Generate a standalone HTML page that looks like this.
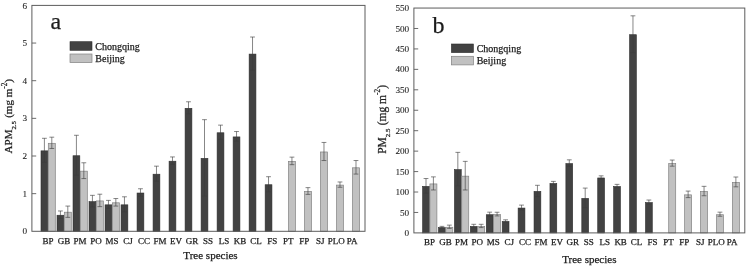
<!DOCTYPE html>
<html><head><meta charset="utf-8"><title>Figure</title>
<style>
html,body{margin:0;padding:0;background:#fff;}
body{width:746px;height:267px;overflow:hidden;}
svg{display:block;filter:blur(0.35px);}
svg text{font-family:"Liberation Serif","Times New Roman",serif;fill:#1c1c1c;stroke:#1c1c1c;stroke-width:0.25px;}
svg text.t{stroke-width:0.08px;}
</style></head><body>
<svg width="746" height="267" viewBox="0 0 746 267">
<rect width="746" height="267" fill="#fff"/>
<g>
<rect x="41.00" y="150.85" width="6.8" height="80.45" fill="#424242" stroke="#2e2e2e" stroke-width="0.6"/>
<path d="M44.40 138.30V162.40M42.00 138.30h4.8M42.00 162.40h4.8" stroke="#3c3c3c" stroke-width="0.62" fill="none"/>
<rect x="48.30" y="143.32" width="7.0" height="87.98" fill="#c1c1c1" stroke="#828282" stroke-width="0.7"/>
<path d="M51.80 137.18V148.47M49.40 137.18h4.8M49.40 148.47h4.8" stroke="#3c3c3c" stroke-width="0.62" fill="none"/>
<rect x="57.01" y="215.23" width="6.8" height="16.07" fill="#424242" stroke="#2e2e2e" stroke-width="0.6"/>
<path d="M60.41 210.97V218.50M58.01 210.97h4.8M58.01 218.50h4.8" stroke="#3c3c3c" stroke-width="0.62" fill="none"/>
<rect x="64.31" y="212.22" width="7.0" height="19.08" fill="#c1c1c1" stroke="#828282" stroke-width="0.7"/>
<path d="M67.81 206.07V217.37M65.41 206.07h4.8M65.41 217.37h4.8" stroke="#3c3c3c" stroke-width="0.62" fill="none"/>
<rect x="73.02" y="155.75" width="6.8" height="75.55" fill="#424242" stroke="#2e2e2e" stroke-width="0.6"/>
<path d="M76.42 135.29V175.20M74.02 135.29h4.8M74.02 175.20h4.8" stroke="#3c3c3c" stroke-width="0.62" fill="none"/>
<rect x="80.32" y="171.18" width="7.0" height="60.12" fill="#c1c1c1" stroke="#828282" stroke-width="0.7"/>
<path d="M83.82 162.78V178.59M81.42 162.78h4.8M81.42 178.59h4.8" stroke="#3c3c3c" stroke-width="0.62" fill="none"/>
<rect x="89.03" y="201.68" width="6.8" height="29.62" fill="#424242" stroke="#2e2e2e" stroke-width="0.6"/>
<path d="M92.43 195.34V207.02M90.03 195.34h4.8M90.03 207.02h4.8" stroke="#3c3c3c" stroke-width="0.62" fill="none"/>
<rect x="96.33" y="200.93" width="7.0" height="30.37" fill="#c1c1c1" stroke="#828282" stroke-width="0.7"/>
<path d="M99.83 194.21V206.64M97.43 194.21h4.8M97.43 206.64h4.8" stroke="#3c3c3c" stroke-width="0.62" fill="none"/>
<rect x="105.04" y="204.84" width="6.8" height="26.46" fill="#424242" stroke="#2e2e2e" stroke-width="0.6"/>
<path d="M108.44 200.39V208.30M106.04 200.39h4.8M106.04 208.30h4.8" stroke="#3c3c3c" stroke-width="0.62" fill="none"/>
<rect x="112.34" y="202.81" width="7.0" height="28.49" fill="#c1c1c1" stroke="#828282" stroke-width="0.7"/>
<path d="M115.84 198.54V206.07M113.44 198.54h4.8M113.44 206.07h4.8" stroke="#3c3c3c" stroke-width="0.62" fill="none"/>
<rect x="121.05" y="204.84" width="6.8" height="26.46" fill="#424242" stroke="#2e2e2e" stroke-width="0.6"/>
<path d="M124.45 196.81V211.87M122.05 196.81h4.8M122.05 211.87h4.8" stroke="#3c3c3c" stroke-width="0.62" fill="none"/>
<rect x="137.06" y="193.02" width="6.8" height="38.28" fill="#424242" stroke="#2e2e2e" stroke-width="0.6"/>
<path d="M140.46 188.76V196.29M138.06 188.76h4.8M138.06 196.29h4.8" stroke="#3c3c3c" stroke-width="0.62" fill="none"/>
<rect x="153.07" y="174.20" width="6.8" height="57.10" fill="#424242" stroke="#2e2e2e" stroke-width="0.6"/>
<path d="M156.47 166.17V181.23M154.07 166.17h4.8M154.07 181.23h4.8" stroke="#3c3c3c" stroke-width="0.62" fill="none"/>
<rect x="169.08" y="161.21" width="6.8" height="70.09" fill="#424242" stroke="#2e2e2e" stroke-width="0.6"/>
<path d="M172.48 156.94V164.47M170.08 156.94h4.8M170.08 164.47h4.8" stroke="#3c3c3c" stroke-width="0.62" fill="none"/>
<rect x="185.09" y="108.31" width="6.8" height="122.99" fill="#424242" stroke="#2e2e2e" stroke-width="0.6"/>
<path d="M188.49 101.78V113.83M186.09 101.78h4.8M186.09 113.83h4.8" stroke="#3c3c3c" stroke-width="0.62" fill="none"/>
<rect x="201.10" y="158.38" width="6.8" height="72.92" fill="#424242" stroke="#2e2e2e" stroke-width="0.6"/>
<path d="M204.50 119.67V196.10M202.10 119.67h4.8M202.10 196.10h4.8" stroke="#3c3c3c" stroke-width="0.62" fill="none"/>
<rect x="217.11" y="132.78" width="6.8" height="98.52" fill="#424242" stroke="#2e2e2e" stroke-width="0.6"/>
<path d="M220.51 125.13V139.43M218.11 125.13h4.8M218.11 139.43h4.8" stroke="#3c3c3c" stroke-width="0.62" fill="none"/>
<rect x="233.12" y="136.92" width="6.8" height="94.38" fill="#424242" stroke="#2e2e2e" stroke-width="0.6"/>
<path d="M236.52 131.53V141.32M234.12 131.53h4.8M234.12 141.32h4.8" stroke="#3c3c3c" stroke-width="0.62" fill="none"/>
<rect x="249.13" y="54.09" width="6.8" height="177.21" fill="#424242" stroke="#2e2e2e" stroke-width="0.6"/>
<path d="M252.53 37.03V70.16M250.13 37.03h4.8M250.13 70.16h4.8" stroke="#3c3c3c" stroke-width="0.62" fill="none"/>
<rect x="265.14" y="184.74" width="6.8" height="46.56" fill="#424242" stroke="#2e2e2e" stroke-width="0.6"/>
<path d="M268.54 176.71V191.77M266.14 176.71h4.8M266.14 191.77h4.8" stroke="#3c3c3c" stroke-width="0.62" fill="none"/>
<rect x="288.45" y="161.39" width="7.0" height="69.91" fill="#c1c1c1" stroke="#828282" stroke-width="0.7"/>
<path d="M291.95 157.13V164.66M289.55 157.13h4.8M289.55 164.66h4.8" stroke="#3c3c3c" stroke-width="0.62" fill="none"/>
<rect x="304.46" y="191.51" width="7.0" height="39.79" fill="#c1c1c1" stroke="#828282" stroke-width="0.7"/>
<path d="M307.96 187.63V194.40M305.56 187.63h4.8M305.56 194.40h4.8" stroke="#3c3c3c" stroke-width="0.62" fill="none"/>
<rect x="320.47" y="151.98" width="7.0" height="79.32" fill="#c1c1c1" stroke="#828282" stroke-width="0.7"/>
<path d="M323.97 142.45V160.52M321.57 142.45h4.8M321.57 160.52h4.8" stroke="#3c3c3c" stroke-width="0.62" fill="none"/>
<rect x="336.48" y="185.11" width="7.0" height="46.19" fill="#c1c1c1" stroke="#828282" stroke-width="0.7"/>
<path d="M339.98 181.98V187.25M337.58 181.98h4.8M337.58 187.25h4.8" stroke="#3c3c3c" stroke-width="0.62" fill="none"/>
<rect x="352.49" y="167.80" width="7.0" height="63.50" fill="#c1c1c1" stroke="#828282" stroke-width="0.7"/>
<path d="M355.99 160.52V174.07M353.59 160.52h4.8M353.59 174.07h4.8" stroke="#3c3c3c" stroke-width="0.62" fill="none"/>
<rect x="31.9" y="5.4" width="333.1" height="225.9" fill="none" stroke="#5c5c5c" stroke-width="1"/>
<text x="27.20" y="234.40" text-anchor="end" font-size="9.2" class="t">0</text>
<path d="M31.9 193.65h4.3" stroke="#5c5c5c" stroke-width="0.9"/>
<text x="27.20" y="196.75" text-anchor="end" font-size="9.2" class="t">1</text>
<path d="M31.9 156.00h4.3" stroke="#5c5c5c" stroke-width="0.9"/>
<text x="27.20" y="159.10" text-anchor="end" font-size="9.2" class="t">2</text>
<path d="M31.9 118.35h4.3" stroke="#5c5c5c" stroke-width="0.9"/>
<text x="27.20" y="121.45" text-anchor="end" font-size="9.2" class="t">3</text>
<path d="M31.9 80.70h4.3" stroke="#5c5c5c" stroke-width="0.9"/>
<text x="27.20" y="83.80" text-anchor="end" font-size="9.2" class="t">4</text>
<path d="M31.9 43.05h4.3" stroke="#5c5c5c" stroke-width="0.9"/>
<text x="27.20" y="46.15" text-anchor="end" font-size="9.2" class="t">5</text>
<text x="27.20" y="8.50" text-anchor="end" font-size="9.2" class="t">6</text>
<text x="48.00" y="243.6" text-anchor="middle" font-size="9">BP</text>
<text x="64.01" y="243.6" text-anchor="middle" font-size="9">GB</text>
<text x="80.02" y="243.6" text-anchor="middle" font-size="9">PM</text>
<text x="96.03" y="243.6" text-anchor="middle" font-size="9">PO</text>
<text x="112.04" y="243.6" text-anchor="middle" font-size="9">MS</text>
<text x="128.05" y="243.6" text-anchor="middle" font-size="9">CJ</text>
<text x="144.06" y="243.6" text-anchor="middle" font-size="9">CC</text>
<text x="160.07" y="243.6" text-anchor="middle" font-size="9">FM</text>
<text x="176.08" y="243.6" text-anchor="middle" font-size="9">EV</text>
<text x="192.09" y="243.6" text-anchor="middle" font-size="9">GR</text>
<text x="208.10" y="243.6" text-anchor="middle" font-size="9">SS</text>
<text x="224.11" y="243.6" text-anchor="middle" font-size="9">LS</text>
<text x="240.12" y="243.6" text-anchor="middle" font-size="9">KB</text>
<text x="256.13" y="243.6" text-anchor="middle" font-size="9">CL</text>
<text x="272.14" y="243.6" text-anchor="middle" font-size="9">FS</text>
<text x="288.15" y="243.6" text-anchor="middle" font-size="9">PT</text>
<text x="304.16" y="243.6" text-anchor="middle" font-size="9">FP</text>
<text x="320.17" y="243.6" text-anchor="middle" font-size="9">SJ</text>
<text x="336.18" y="243.6" text-anchor="middle" font-size="9">PLO</text>
<text x="352.19" y="243.6" text-anchor="middle" font-size="9">PA</text>
<text x="210.5" y="259.2" text-anchor="middle" font-size="11">Tree species</text>
<text transform="translate(11.8 153.4) rotate(-90)" font-size="11">APM<tspan font-size="6.8" dy="4">2.5</tspan><tspan dy="-4" dx="0.5"> (mg m</tspan><tspan font-size="7.3" dy="-5.2">-2</tspan><tspan dy="5.2">)</tspan></text>
<text x="50.5" y="28.8" font-size="24">a</text>
<rect x="70" y="41.7" width="22" height="8.6" fill="#424242" stroke="#2e2e2e" stroke-width="0.6"/>
<rect x="70" y="54.0" width="22" height="8.6" fill="#c1c1c1" stroke="#828282" stroke-width="0.7"/>
<text x="95.3" y="49.6" font-size="10">Chongqing</text>
<text x="95.3" y="61.900000000000006" font-size="10">Beijing</text>
</g>
<g>
<rect x="422.60" y="186.39" width="6.8" height="46.51" fill="#424242" stroke="#2e2e2e" stroke-width="0.6"/>
<path d="M426.00 178.53V193.24M423.60 178.53h4.8M423.60 193.24h4.8" stroke="#3c3c3c" stroke-width="0.62" fill="none"/>
<rect x="429.90" y="183.93" width="7.0" height="48.97" fill="#c1c1c1" stroke="#828282" stroke-width="0.7"/>
<path d="M433.40 176.89V189.97M431.00 176.89h4.8M431.00 189.97h4.8" stroke="#3c3c3c" stroke-width="0.62" fill="none"/>
<rect x="438.52" y="227.68" width="6.8" height="5.22" fill="#424242" stroke="#2e2e2e" stroke-width="0.6"/>
<path d="M441.92 226.36V227.99M439.52 226.36h4.8M439.52 227.99h4.8" stroke="#3c3c3c" stroke-width="0.62" fill="none"/>
<rect x="445.82" y="227.27" width="7.0" height="5.63" fill="#c1c1c1" stroke="#828282" stroke-width="0.7"/>
<path d="M449.32 225.13V228.40M446.92 225.13h4.8M446.92 228.40h4.8" stroke="#3c3c3c" stroke-width="0.62" fill="none"/>
<rect x="454.44" y="169.62" width="6.8" height="63.28" fill="#424242" stroke="#2e2e2e" stroke-width="0.6"/>
<path d="M457.84 152.36V185.89M455.44 152.36h4.8M455.44 185.89h4.8" stroke="#3c3c3c" stroke-width="0.62" fill="none"/>
<rect x="461.74" y="176.17" width="7.0" height="56.73" fill="#c1c1c1" stroke="#828282" stroke-width="0.7"/>
<path d="M465.24 161.36V189.97M462.84 161.36h4.8M462.84 189.97h4.8" stroke="#3c3c3c" stroke-width="0.62" fill="none"/>
<rect x="470.36" y="226.45" width="6.8" height="6.45" fill="#424242" stroke="#2e2e2e" stroke-width="0.6"/>
<path d="M473.76 224.31V227.59M471.36 224.31h4.8M471.36 227.59h4.8" stroke="#3c3c3c" stroke-width="0.62" fill="none"/>
<rect x="477.66" y="226.45" width="7.0" height="6.45" fill="#c1c1c1" stroke="#828282" stroke-width="0.7"/>
<path d="M481.16 224.31V227.59M478.76 224.31h4.8M478.76 227.59h4.8" stroke="#3c3c3c" stroke-width="0.62" fill="none"/>
<rect x="486.28" y="214.72" width="6.8" height="18.18" fill="#424242" stroke="#2e2e2e" stroke-width="0.6"/>
<path d="M489.68 212.17V216.26M487.28 212.17h4.8M487.28 216.26h4.8" stroke="#3c3c3c" stroke-width="0.62" fill="none"/>
<rect x="493.58" y="214.59" width="7.0" height="18.31" fill="#c1c1c1" stroke="#828282" stroke-width="0.7"/>
<path d="M497.08 212.25V215.93M494.68 212.25h4.8M494.68 215.93h4.8" stroke="#3c3c3c" stroke-width="0.62" fill="none"/>
<rect x="502.20" y="221.54" width="6.8" height="11.36" fill="#424242" stroke="#2e2e2e" stroke-width="0.6"/>
<path d="M505.60 219.82V222.27M503.20 219.82h4.8M503.20 222.27h4.8" stroke="#3c3c3c" stroke-width="0.62" fill="none"/>
<rect x="518.12" y="208.05" width="6.8" height="24.85" fill="#424242" stroke="#2e2e2e" stroke-width="0.6"/>
<path d="M521.52 205.10V210.01M519.12 205.10h4.8M519.12 210.01h4.8" stroke="#3c3c3c" stroke-width="0.62" fill="none"/>
<rect x="534.04" y="191.41" width="6.8" height="41.49" fill="#424242" stroke="#2e2e2e" stroke-width="0.6"/>
<path d="M537.44 185.31V196.52M535.04 185.31h4.8M535.04 196.52h4.8" stroke="#3c3c3c" stroke-width="0.62" fill="none"/>
<rect x="549.96" y="183.52" width="6.8" height="49.38" fill="#424242" stroke="#2e2e2e" stroke-width="0.6"/>
<path d="M553.36 181.39V184.66M550.96 181.39h4.8M550.96 184.66h4.8" stroke="#3c3c3c" stroke-width="0.62" fill="none"/>
<rect x="565.88" y="163.61" width="6.8" height="69.29" fill="#424242" stroke="#2e2e2e" stroke-width="0.6"/>
<path d="M569.28 159.84V166.39M566.88 159.84h4.8M566.88 166.39h4.8" stroke="#3c3c3c" stroke-width="0.62" fill="none"/>
<rect x="581.80" y="198.41" width="6.8" height="34.49" fill="#424242" stroke="#2e2e2e" stroke-width="0.6"/>
<path d="M585.20 188.09V207.72M582.80 188.09h4.8M582.80 207.72h4.8" stroke="#3c3c3c" stroke-width="0.62" fill="none"/>
<rect x="597.72" y="177.96" width="6.8" height="54.94" fill="#424242" stroke="#2e2e2e" stroke-width="0.6"/>
<path d="M601.12 175.83V179.10M598.72 175.83h4.8M598.72 179.10h4.8" stroke="#3c3c3c" stroke-width="0.62" fill="none"/>
<rect x="613.64" y="186.51" width="6.8" height="46.39" fill="#424242" stroke="#2e2e2e" stroke-width="0.6"/>
<path d="M617.04 184.37V187.64M614.64 184.37h4.8M614.64 187.64h4.8" stroke="#3c3c3c" stroke-width="0.62" fill="none"/>
<rect x="629.56" y="34.71" width="6.8" height="198.19" fill="#424242" stroke="#2e2e2e" stroke-width="0.6"/>
<path d="M632.96 15.82V52.61M630.56 15.82h4.8M630.56 52.61h4.8" stroke="#3c3c3c" stroke-width="0.62" fill="none"/>
<rect x="645.48" y="202.58" width="6.8" height="30.32" fill="#424242" stroke="#2e2e2e" stroke-width="0.6"/>
<path d="M648.88 200.03V204.12M646.48 200.03h4.8M646.48 204.12h4.8" stroke="#3c3c3c" stroke-width="0.62" fill="none"/>
<rect x="668.70" y="163.61" width="7.0" height="69.29" fill="#c1c1c1" stroke="#828282" stroke-width="0.7"/>
<path d="M672.20 160.05V166.18M669.80 160.05h4.8M669.80 166.18h4.8" stroke="#3c3c3c" stroke-width="0.62" fill="none"/>
<rect x="684.62" y="194.85" width="7.0" height="38.05" fill="#c1c1c1" stroke="#828282" stroke-width="0.7"/>
<path d="M688.12 191.08V197.62M685.72 191.08h4.8M685.72 197.62h4.8" stroke="#3c3c3c" stroke-width="0.62" fill="none"/>
<rect x="700.54" y="191.54" width="7.0" height="41.36" fill="#c1c1c1" stroke="#828282" stroke-width="0.7"/>
<path d="M704.04 186.34V195.74M701.64 186.34h4.8M701.64 195.74h4.8" stroke="#3c3c3c" stroke-width="0.62" fill="none"/>
<rect x="716.46" y="214.72" width="7.0" height="18.18" fill="#c1c1c1" stroke="#828282" stroke-width="0.7"/>
<path d="M719.96 212.17V216.26M717.56 212.17h4.8M717.56 216.26h4.8" stroke="#3c3c3c" stroke-width="0.62" fill="none"/>
<rect x="732.38" y="182.42" width="7.0" height="50.48" fill="#c1c1c1" stroke="#828282" stroke-width="0.7"/>
<path d="M735.88 177.01V186.83M733.48 177.01h4.8M733.48 186.83h4.8" stroke="#3c3c3c" stroke-width="0.62" fill="none"/>
<rect x="413.9" y="8.05" width="330.9" height="224.85" fill="none" stroke="#5c5c5c" stroke-width="1"/>
<text x="409.20" y="236.00" text-anchor="end" font-size="9.2" class="t">0</text>
<path d="M413.9 212.46h4.3" stroke="#5c5c5c" stroke-width="0.9"/>
<text x="409.20" y="215.56" text-anchor="end" font-size="9.2" class="t">50</text>
<path d="M413.9 192.02h4.3" stroke="#5c5c5c" stroke-width="0.9"/>
<text x="409.20" y="195.12" text-anchor="end" font-size="9.2" class="t">100</text>
<path d="M413.9 171.58h4.3" stroke="#5c5c5c" stroke-width="0.9"/>
<text x="409.20" y="174.68" text-anchor="end" font-size="9.2" class="t">150</text>
<path d="M413.9 151.14h4.3" stroke="#5c5c5c" stroke-width="0.9"/>
<text x="409.20" y="154.24" text-anchor="end" font-size="9.2" class="t">200</text>
<path d="M413.9 130.70h4.3" stroke="#5c5c5c" stroke-width="0.9"/>
<text x="409.20" y="133.80" text-anchor="end" font-size="9.2" class="t">250</text>
<path d="M413.9 110.25h4.3" stroke="#5c5c5c" stroke-width="0.9"/>
<text x="409.20" y="113.35" text-anchor="end" font-size="9.2" class="t">300</text>
<path d="M413.9 89.81h4.3" stroke="#5c5c5c" stroke-width="0.9"/>
<text x="409.20" y="92.91" text-anchor="end" font-size="9.2" class="t">350</text>
<path d="M413.9 69.37h4.3" stroke="#5c5c5c" stroke-width="0.9"/>
<text x="409.20" y="72.47" text-anchor="end" font-size="9.2" class="t">400</text>
<path d="M413.9 48.93h4.3" stroke="#5c5c5c" stroke-width="0.9"/>
<text x="409.20" y="52.03" text-anchor="end" font-size="9.2" class="t">450</text>
<path d="M413.9 28.49h4.3" stroke="#5c5c5c" stroke-width="0.9"/>
<text x="409.20" y="31.59" text-anchor="end" font-size="9.2" class="t">500</text>
<text x="409.20" y="11.15" text-anchor="end" font-size="9.2" class="t">550</text>
<text x="429.60" y="244.9" text-anchor="middle" font-size="9">BP</text>
<text x="445.52" y="244.9" text-anchor="middle" font-size="9">GB</text>
<text x="461.44" y="244.9" text-anchor="middle" font-size="9">PM</text>
<text x="477.36" y="244.9" text-anchor="middle" font-size="9">PO</text>
<text x="493.28" y="244.9" text-anchor="middle" font-size="9">MS</text>
<text x="509.20" y="244.9" text-anchor="middle" font-size="9">CJ</text>
<text x="525.12" y="244.9" text-anchor="middle" font-size="9">CC</text>
<text x="541.04" y="244.9" text-anchor="middle" font-size="9">FM</text>
<text x="556.96" y="244.9" text-anchor="middle" font-size="9">EV</text>
<text x="572.88" y="244.9" text-anchor="middle" font-size="9">GR</text>
<text x="588.80" y="244.9" text-anchor="middle" font-size="9">SS</text>
<text x="604.72" y="244.9" text-anchor="middle" font-size="9">LS</text>
<text x="620.64" y="244.9" text-anchor="middle" font-size="9">KB</text>
<text x="636.56" y="244.9" text-anchor="middle" font-size="9">CL</text>
<text x="652.48" y="244.9" text-anchor="middle" font-size="9">FS</text>
<text x="668.40" y="244.9" text-anchor="middle" font-size="9">PT</text>
<text x="684.32" y="244.9" text-anchor="middle" font-size="9">FP</text>
<text x="700.24" y="244.9" text-anchor="middle" font-size="9">SJ</text>
<text x="716.16" y="244.9" text-anchor="middle" font-size="9">PLO</text>
<text x="732.08" y="244.9" text-anchor="middle" font-size="9">PA</text>
<text x="589.3" y="262.9" text-anchor="middle" font-size="11">Tree species</text>
<text transform="translate(385.5 153.8) rotate(-90)" font-size="11.5">PM<tspan font-size="6.8" dy="4">2.5</tspan><tspan dy="-4" dx="0.5"> (mg m</tspan><tspan font-size="7.3" dy="-5.2">-2</tspan><tspan dy="5.2">)</tspan></text>
<text x="432.5" y="33.0" font-size="24">b</text>
<rect x="451.4" y="44" width="22" height="8.6" fill="#424242" stroke="#2e2e2e" stroke-width="0.6"/>
<rect x="451.4" y="56.3" width="22" height="8.6" fill="#c1c1c1" stroke="#828282" stroke-width="0.7"/>
<text x="476.7" y="51.9" font-size="10">Chongqing</text>
<text x="476.7" y="64.2" font-size="10">Beijing</text>
</g>
</svg>
</body></html>
